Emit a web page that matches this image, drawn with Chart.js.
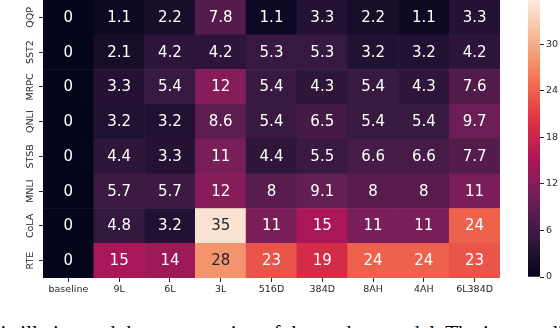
<!DOCTYPE html>
<html>
<head>
<meta charset="utf-8">
<script src="https://cdn.jsdelivr.net/npm/chart.js@4.4.1/dist/chart.umd.min.js"></script>
<style>
  html, body { margin: 0; padding: 0; background: #fff; width: 560px; height: 328px; overflow: hidden; position: relative; }
  #main { position: absolute; left: 0; top: 0; }
  #cbar { position: absolute; left: 500px; top: 0; }
  #caption { position: absolute; left: -10px; top: 323px; font-family: 'Liberation Serif', serif; font-size: 21px; line-height: 21px; white-space: nowrap; color: #000; }
</style>
</head>
<body>
<canvas id="main" width="510" height="300"></canvas>
<canvas id="cbar" width="60" height="300"></canvas>
<div id="caption">distillation and the compression of the student model. The intermediate</div>
<script>
// rows top to bottom, columns left to right
const tasks = ['QQP', 'SST2', 'MRPC', 'QNLI', 'STSB', 'MNLI', 'CoLA', 'RTE'];
const models = ['baseline', '9L', '6L', '3L', '516D', '384D', '8AH', '4AH', '6L384D'];

const qqp  = [0, 1.1, 2.2, 7.8, 1.1, 3.3, 2.2, 1.1, 3.3];
const sst2 = [0, 2.1, 4.2, 4.2, 5.3, 5.3, 3.2, 3.2, 4.2];
const mrpc = [0, 3.3, 5.4, 12, 5.4, 4.3, 5.4, 4.3, 7.6];
const qnli = [0, 3.2, 3.2, 8.6, 5.4, 6.5, 5.4, 5.4, 9.7];
const stsb = [0, 4.4, 3.3, 11, 4.4, 5.5, 6.6, 6.6, 7.7];
const mnli = [0, 5.7, 5.7, 12, 8, 9.1, 8, 8, 11];
const cola = [0, 4.8, 3.2, 35, 11, 15, 11, 11, 24];
const rte  = [0, 15, 14, 28, 23, 19, 24, 24, 23];

const colorbarTicks = [0, 6, 12, 18, 24, 30];
const colorMin = 0;
const colorMax = 35.7;

// seaborn "rocket" colormap, approximated by a few stops
const rocketStops = [
    [0, '#03051a'], [1 / 7, '#35193e'], [2 / 7, '#701f57'], [3 / 7, '#ad1759'],
    [4 / 7, '#e13342'], [5 / 7, '#f37651'], [6 / 7, '#f6b48f'], [1, '#faebdd']
];

function hexToRgb(h) {
    return [1, 3, 5].map(i => parseInt(h.slice(i, i + 2), 16));
}

function rocket(t) {
    t = Math.max(0, Math.min(1, t));
    for (let i = 1; i < rocketStops.length; i++) {
        const [t1, c1] = rocketStops[i];
        if (t <= t1) {
            const [t0, c0] = rocketStops[i - 1];
            const f = (t - t0) / (t1 - t0);
            const a = hexToRgb(c0), b = hexToRgb(c1);
            return a.map((v, k) => Math.round(v + (b[k] - v) * f));
        }
    }
    return hexToRgb(rocketStops[rocketStops.length - 1][1]);
}

function rgbStr(c) { return `rgb(${c[0]},${c[1]},${c[2]})`; }

// same rule seaborn uses to choose annotation colour
function textColorFor(c) {
    const lin = c.map(v => {
        v = v / 255;
        return v <= 0.03928 ? v / 12.92 : Math.pow((v + 0.055) / 1.055, 2.4);
    });
    const lum = 0.2126 * lin[0] + 0.7152 * lin[1] + 0.0722 * lin[2];
    return lum > 0.408 ? '#262626' : '#ffffff';
}

const rows = [qqp, sst2, mrpc, qnli, stsb, mnli, cola, rte];
const tickFont = { family: 'DejaVu Sans', size: 9.5 };
const tickColor = '#262626';

// stack from the bottom row (RTE) upwards
const datasets = rows.slice().reverse().map((vals, i) => {
    const colors = vals.map(v => rocket((v - colorMin) / (colorMax - colorMin)));
    return {
        label: tasks[tasks.length - 1 - i],
        data: models.map(() => 1),
        values: vals,
        backgroundColor: colors.map(rgbStr),
        textColors: colors.map(textColorFor),
        borderWidth: 0,
        barPercentage: 1,
        categoryPercentage: 1
    };
});

const cellLabels = {
    id: 'cellLabels',
    afterDatasetsDraw(chart) {
        const ctx = chart.ctx;
        ctx.save();
        ctx.font = '15px "DejaVu Sans"';
        ctx.textAlign = 'center';
        ctx.textBaseline = 'middle';
        chart.data.datasets.forEach((ds, i) => {
            chart.getDatasetMeta(i).data.forEach((bar, j) => {
                const { x, y, base } = bar.getProps(['x', 'y', 'base'], true);
                ctx.fillStyle = ds.textColors[j];
                ctx.fillText(String(ds.values[j]), x, (y + base) / 2 + 0.5);
            });
        });
        ctx.restore();
    }
};

new Chart(document.getElementById('main').getContext('2d'), {
    type: 'bar',
    data: { labels: models, datasets },
    options: {
        responsive: false,
        animation: false,
        layout: { padding: { left: 0, right: 10, top: 0, bottom: 0 } },
        plugins: { legend: { display: false }, tooltip: { enabled: false } },
        scales: {
            x: {
                stacked: true,
                grid: { offset: false, drawOnChartArea: false, tickLength: 4, color: tickColor },
                border: { display: false },
                ticks: { font: tickFont, color: tickColor, padding: 2, maxRotation: 0, autoSkip: false },
                afterFit: s => { s.height = 22; }
            },
            y: {
                stacked: true,
                min: 0,
                max: tasks.length,
                afterBuildTicks: s => { s.ticks = tasks.map((_, i) => ({ value: i + 0.5 })); },
                grid: { drawOnChartArea: false, tickLength: 4, color: tickColor },
                border: { display: false },
                ticks: {
                    font: tickFont,
                    color: tickColor,
                    minRotation: 90,
                    maxRotation: 90,
                    crossAlign: 'center',
                    padding: -5,
                    callback: v => tasks[tasks.length - 1 - Math.floor(v)]
                },
                afterFit: s => { s.width = 43; s.paddingTop = 0; s.paddingBottom = 0; }
            }
        }
    },
    plugins: [cellLabels]
});

// colour bar
new Chart(document.getElementById('cbar').getContext('2d'), {
    type: 'bar',
    data: {
        labels: [''],
        datasets: [{
            data: [[colorMin, colorMax]],
            borderWidth: 0,
            barPercentage: 1,
            categoryPercentage: 1,
            backgroundColor: (c) => {
                const area = c.chart.chartArea;
                if (!area) return rocketStops[0][1];
                const g = c.chart.ctx.createLinearGradient(0, area.bottom, 0, area.top);
                rocketStops.forEach(([t, col]) => g.addColorStop(t, col));
                return g;
            }
        }]
    },
    options: {
        responsive: false,
        animation: false,
        layout: { padding: { left: 28, right: 0, top: 0, bottom: 23 } },
        plugins: { legend: { display: false }, tooltip: { enabled: false } },
        scales: {
            x: { display: false },
            y: {
                position: 'right',
                min: colorMin,
                max: colorMax,
                afterBuildTicks: s => { s.ticks = colorbarTicks.map(v => ({ value: v })); },
                grid: { drawOnChartArea: false, tickLength: 4, color: tickColor },
                border: { display: false },
                ticks: { font: tickFont, color: tickColor, padding: 2 },
                afterFit: s => { s.width = 20; s.paddingTop = 0; s.paddingBottom = 0; }
            }
        }
    }
});
</script>
</body>
</html>
